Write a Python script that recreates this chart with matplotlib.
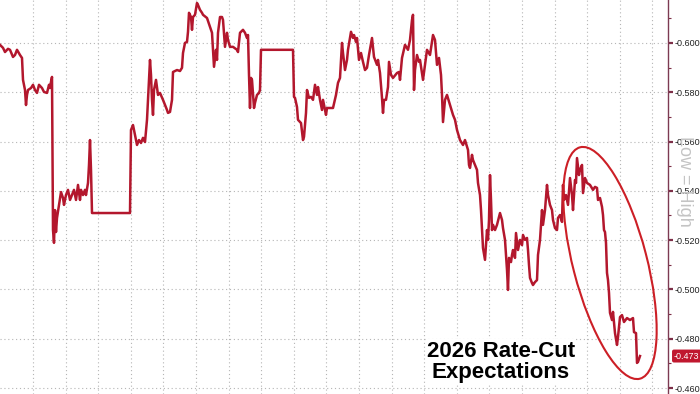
import numpy as np
import matplotlib.pyplot as plt
from matplotlib.patches import Ellipse
from matplotlib.ticker import FormatStrFormatter, MultipleLocator
from matplotlib.transforms import IdentityTransform

plt.rcParams['font.family'] = ['Liberation Sans', 'DejaVu Sans']

# eje x: dias desde el inicio de la serie, eje y: expectativa implicita (escala invertida)
dias_1 = [0, 3, 5, 8, 10, 13, 15, 17, 20, 22, 23, 25, 26, 27, 28, 31, 33, 35, 37, 39,
          42, 44, 47, 49, 50, 51, 52]
valores_1 = [-0.5992, -0.5980, -0.5963, -0.5976, -0.5972, -0.5943, -0.5951, -0.5972,
             -0.5951, -0.5939, -0.5850, -0.5809, -0.5748, -0.5789, -0.5809, -0.5817,
             -0.5830, -0.5809, -0.5797, -0.5830, -0.5817, -0.5801, -0.5797, -0.5830,
             -0.5817, -0.5842, -0.5862]

dias_2 = [53, 54, 55, 56, 57, 59, 61, 63, 64, 66, 68, 70, 72, 74, 76, 78, 80, 81, 83,
          85, 86, 88, 89, 90, 91, 92, 130]
valores_2 = [-0.5241, -0.5189, -0.5322, -0.5233, -0.5290, -0.5343, -0.5395, -0.5371,
             -0.5343, -0.5383, -0.5404, -0.5363, -0.5383, -0.5404, -0.5363, -0.5424,
             -0.5363, -0.5404, -0.5383, -0.5404, -0.5383, -0.5432, -0.5505, -0.5606,
             -0.5485, -0.5310, -0.5310]

dias_3 = [131, 133, 135, 137, 139, 141, 143, 145, 147, 148, 149, 150, 151, 152, 153,
          154, 156, 158, 160, 163, 167, 168, 170, 172, 173, 177, 180, 182, 183, 185,
          187, 188, 189, 191, 192, 193, 195, 197, 198, 200, 202, 203, 207, 210, 212,
          213, 214, 216, 217, 218, 220, 222, 223, 225, 227, 228, 230, 233, 237, 238,
          240, 243, 245, 247, 248, 249, 250, 251, 252, 254, 255, 257, 259, 260, 261, 293]
valores_3 = [-0.5647, -0.5667, -0.5627, -0.5586, -0.5606, -0.5594, -0.5615, -0.5598,
             -0.5688, -0.5769, -0.5850, -0.5931, -0.5870, -0.5769, -0.5708, -0.5809,
             -0.5850, -0.5789, -0.5797, -0.5769, -0.5728, -0.5716, -0.5720, -0.5769,
             -0.5882, -0.5890, -0.5886, -0.5899, -0.5959, -0.6000, -0.6004, -0.6045,
             -0.6122, -0.6105, -0.6053, -0.6105, -0.6114, -0.6162, -0.6154, -0.6134,
             -0.6122, -0.6114, -0.6101, -0.6065, -0.6041, -0.5972, -0.5903, -0.5972,
             -0.5931, -0.6041, -0.6105, -0.6105, -0.6093, -0.5984, -0.6041, -0.6012,
             -0.5984, -0.5984, -0.5972, -0.5963, -0.6041, -0.6053, -0.6041, -0.6020,
             -0.6032, -0.5870, -0.5736, -0.5858, -0.5850, -0.5736, -0.5757, -0.5789,
             -0.5797, -0.5809, -0.5972, -0.5972]

dias_4 = [294, 295, 297, 298, 301, 303, 304, 306, 307, 309, 311, 313, 315, 317, 318,
          320, 322, 323, 326, 327, 333, 336, 338, 340, 342, 343, 345, 347, 348, 351,
          353, 354, 356, 357, 359, 361, 363, 365, 367, 369, 372, 374, 377, 378, 380,
          382, 383, 384, 386, 388, 389, 391, 393, 397, 399]
valores_4 = [-0.5781, -0.5777, -0.5740, -0.5688, -0.5675, -0.5606, -0.5619, -0.5716,
             -0.5809, -0.5777, -0.5781, -0.5769, -0.5830, -0.5789, -0.5821, -0.5769,
             -0.5728, -0.5769, -0.5708, -0.5736, -0.5736, -0.5789, -0.5838, -0.5858,
             -0.6000, -0.5959, -0.5890, -0.5931, -0.5972, -0.6045, -0.6020, -0.6032,
             -0.6004, -0.6020, -0.5931, -0.5959, -0.5923, -0.5890, -0.5899, -0.5951,
             -0.6020, -0.5943, -0.5911, -0.5931, -0.5878, -0.5777, -0.5716, -0.5769,
             -0.5769, -0.5821, -0.5923, -0.5870, -0.5858, -0.5878, -0.5882]

dias_5 = [400, 402, 405, 408, 410, 412, 413, 414, 415, 417, 419, 420, 423, 425, 427,
          430, 433, 435, 437, 439, 441, 442, 443, 445, 447, 450, 453, 455, 457, 460,
          463, 465, 468, 469, 470, 472, 473, 475, 477, 478, 480, 481, 482, 483, 485,
          486, 487, 488, 489, 490, 491, 492, 493, 495, 497, 500, 502, 503, 505, 507,
          508, 509, 511, 512, 513, 515, 516, 518, 520, 522, 523, 525, 527, 528, 529,
          530, 532, 533, 535, 537, 538, 540, 542, 543, 545, 547, 548, 550, 552, 553,
          555, 557, 558, 560, 562, 563, 564, 566, 568, 570, 572, 573, 575, 576, 577,
          579, 580, 582, 583, 585, 587, 590, 593, 595, 597, 598, 600, 602, 603, 604,
          605, 606, 607, 608, 609, 610, 612, 613, 615, 617, 618, 620, 622, 624, 627,
          630, 633, 634, 636, 637, 638, 640]
valores_5 = [-0.5850, -0.5939, -0.5992, -0.5972, -0.6012, -0.6093, -0.6114, -0.5809,
             -0.5890, -0.5951, -0.5923, -0.5931, -0.5850, -0.5911, -0.5972, -0.5951,
             -0.6032, -0.6012, -0.5911, -0.5939, -0.5870, -0.5789, -0.5679, -0.5769,
             -0.5789, -0.5748, -0.5708, -0.5688, -0.5647, -0.5606, -0.5586, -0.5606,
             -0.5566, -0.5505, -0.5493, -0.5546, -0.5525, -0.5505, -0.5485, -0.5432,
             -0.5383, -0.5322, -0.5241, -0.5168, -0.5120, -0.5180, -0.5241, -0.5201,
             -0.5282, -0.5464, -0.5363, -0.5241, -0.5262, -0.5241, -0.5262, -0.5310,
             -0.5282, -0.5249, -0.5201, -0.5079, -0.4998, -0.5128, -0.5111, -0.5140,
             -0.5160, -0.5128, -0.5229, -0.5160, -0.5201, -0.5180, -0.5221, -0.5201,
             -0.5209, -0.5160, -0.5099, -0.5047, -0.5026, -0.5018, -0.5030, -0.5038,
             -0.5140, -0.5201, -0.5322, -0.5262, -0.5322, -0.5424, -0.5383, -0.5343,
             -0.5322, -0.5282, -0.5249, -0.5241, -0.5290, -0.5302, -0.5274, -0.5424,
             -0.5363, -0.5383, -0.5343, -0.5452, -0.5383, -0.5322, -0.5444, -0.5432,
             -0.5533, -0.5464, -0.5485, -0.5505, -0.5391, -0.5452, -0.5432, -0.5424,
             -0.5404, -0.5416, -0.5412, -0.5363, -0.5371, -0.5335, -0.5302, -0.5241,
             -0.5233, -0.5189, -0.5067, -0.5038, -0.4986, -0.4905, -0.4876, -0.4909,
             -0.4823, -0.4775, -0.4807, -0.4888, -0.4896, -0.4868, -0.4884, -0.4876,
             -0.4884, -0.4827, -0.4823, -0.4702, -0.4706, -0.4730]

dias = dias_1 + dias_2 + dias_3 + dias_4 + dias_5
valores = valores_1 + valores_2 + valores_3 + valores_4 + valores_5
ultimo = valores[-1]

fig = plt.figure(figsize=(7, 3.94), dpi=100)
ax = fig.add_axes([0, 0, 668 / 700, 1])

ax.plot(dias, valores, color='#b3172d', lw=1.8, zorder=3)

ax.set_xlim(0, 668)
ax.set_ylim(-0.4576, -0.6174)  # escala invertida: Low = High

# rejilla punteada
ax.set_xticks(np.arange(33, 668, 32.6))
ax.set_yticks(np.arange(-0.60, -0.459, 0.02))
ax.yaxis.set_minor_locator(MultipleLocator(0.01))
ax.yaxis.set_major_formatter(FormatStrFormatter('%.3f'))
ax.grid(True, which='major', color='#b5b5b5', lw=0.8, ls=(0, (1, 2.5)), zorder=0)

ax.yaxis.tick_right()
ax.tick_params(axis='x', length=0, labelbottom=False)
ax.tick_params(axis='y', which='major', length=3.5, width=1.6, color='#7d2f48',
               labelsize=6.5, labelcolor='#222222', pad=1.2)
ax.tick_params(axis='y', which='minor', length=2, width=0.8, color='#7d2f48')
for lado in ['left', 'top', 'bottom']:
    ax.spines[lado].set_visible(False)
ax.spines['right'].set_color('#7d3a52')
ax.spines['right'].set_linewidth(1.0)

# texto de fondo "Low = High"
fig.text(684 / 700, 1 - 181 / 394, 'Low = High', rotation=-90, ha='center', va='center',
         color='#c4c4c4', fontsize=13, zorder=0)

# etiqueta del ultimo valor
ax.text(1.009, ultimo, f'{ultimo:.3f}', transform=ax.get_yaxis_transform(),
        ha='left', va='center', color='white', fontsize=6.5, clip_on=False, zorder=5,
        bbox=dict(boxstyle='round,pad=0.22', fc='#c0182f', ec='none'))

fig.text(501 / 700, 1 - 362 / 394, '2026 Rate-Cut\nExpectations', ha='center', va='center',
         fontsize=16, fontweight='bold', color='black', linespacing=1.05, zorder=6,
         bbox=dict(fc='white', ec='none', pad=1))

elipse = Ellipse((610, 131), width=239, height=74, angle=-75.5, transform=IdentityTransform(),
                 fill=False, ec='#cc1f26', lw=1.5, zorder=7)
fig.add_artist(elipse)

fig.savefig('out.png', dpi=100)
